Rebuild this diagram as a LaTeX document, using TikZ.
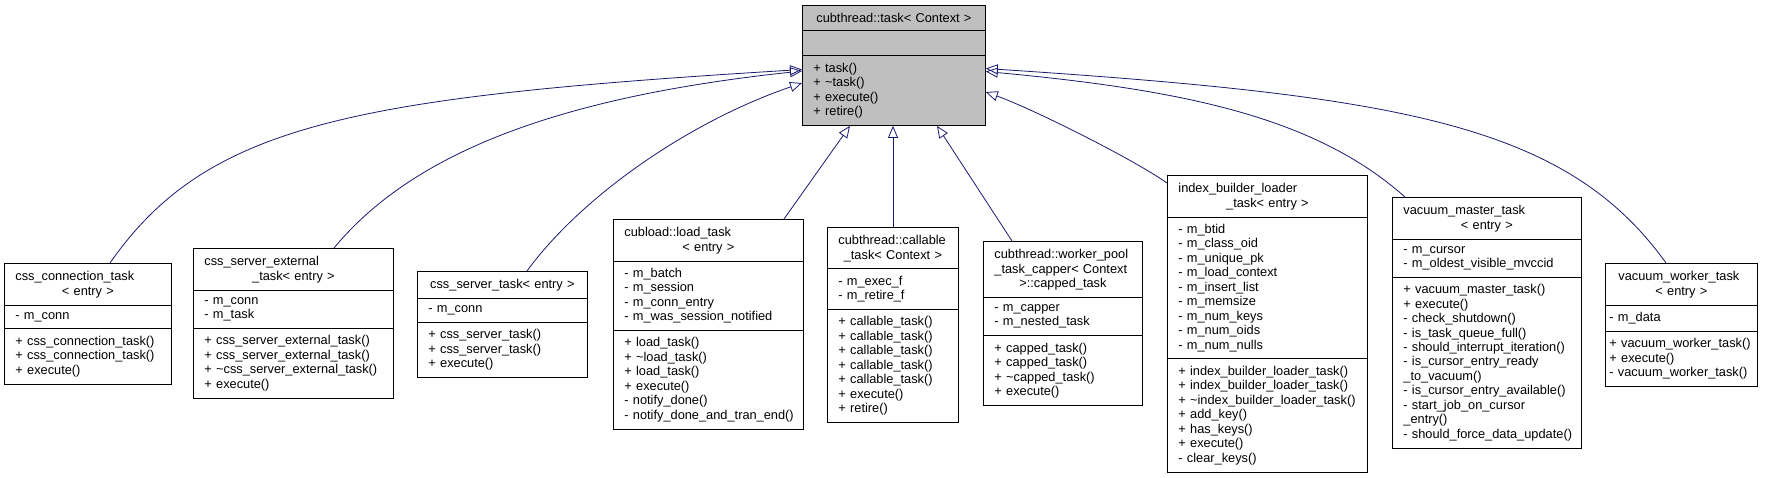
\documentclass[tikz,border=0pt]{standalone}
\usepackage{fontspec}
\setmainfont{Liberation Sans}
\usetikzlibrary{shapes.multipart, arrows.meta}
\definecolor{edgeblue}{RGB}{25, 25, 112}
\definecolor{basegray}{RGB}{191, 191, 191}
\newcommand\umlfont{\fontsize{12.8}{14.46}\selectfont\hyphenpenalty=10000 \exhyphenpenalty=10000 }
\newcommand\ctr[1]{\hfill#1\hfill\null}

\begin{document}
\begin{tikzpicture}[x=1pt, y=-1pt,
  cls/.style={draw=black, fill=white, line width=0.8pt, rectangle split, rectangle split parts=3, anchor=north west, inner xsep=11pt, inner ysep=6.8pt, text height=10pt, align=left, font=\umlfont},
  inherit/.style={draw=edgeblue, line width=0.8pt, -{Triangle[open, length=12pt, width=10pt]}}
]
  \useasboundingbox (0,0) rectangle (1778,477);

  \node[cls, fill=basegray, text width=161pt] (base) at (802,5) {\ctr{cubthread::task< Context >}
    \nodepart{second}\rule{0pt}{11.4pt}
    \nodepart{third}+~task()\\+~\textasciitilde task()\\+~execute()\\+~retire()};

  \node[cls, text width=145pt] (conn) at (4,263) {css\_connection\_task\\\ctr{< entry >}
    \nodepart{second}-~m\_conn
    \nodepart{third}+~css\_connection\_task()\\+~css\_connection\_task()\\+~execute()};

  \node[cls, text width=178pt] (extn) at (193,248) {css\_server\_external\\\ctr{\_task< entry >}
    \nodepart{second}-~m\_conn\\-~m\_task
    \nodepart{third}+~css\_server\_external\_task()\\+~css\_server\_external\_task()\\+~\textasciitilde css\_server\_external\_task()\\+~execute()};

  \node[cls, text width=148pt] (srv) at (417,271) {\ctr{css\_server\_task< entry >}
    \nodepart{second}-~m\_conn
    \nodepart{third}+~css\_server\_task()\\+~css\_server\_task()\\+~execute()};

  \node[cls, text width=168pt] (load) at (613,219) {cubload::load\_task\\\ctr{< entry >}
    \nodepart{second}-~m\_batch\\-~m\_session\\-~m\_conn\_entry\\-~m\_was\_session\_notified
    \nodepart{third}+~load\_task()\\+~\textasciitilde load\_task()\\+~load\_task()\\+~execute()\\-~notify\_done()\\-~notify\_done\_and\_tran\_end()};

  \node[cls, text width=109pt] (call) at (827,227) {cubthread::callable\\\ctr{\_task< Context >}
    \nodepart{second}-~m\_exec\_f\\-~m\_retire\_f
    \nodepart{third}+~callable\_task()\\+~callable\_task()\\+~callable\_task()\\+~callable\_task()\\+~callable\_task()\\+~execute()\\+~retire()};

  \node[cls, text width=137pt] (capped) at (983,241) {cubthread::worker\_pool\\\_task\_capper< Context\\\ctr{>::capped\_task}
    \nodepart{second}-~m\_capper\\-~m\_nested\_task
    \nodepart{third}+~capped\_task()\\+~capped\_task()\\+~\textasciitilde capped\_task()\\+~execute()};

  \node[cls, text width=178pt] (ibl) at (1167,175) {index\_builder\_loader\\\ctr{\_task< entry >}
    \nodepart{second}-~m\_btid\\-~m\_class\_oid\\-~m\_unique\_pk\\-~m\_load\_context\\-~m\_insert\_list\\-~m\_memsize\\-~m\_num\_keys\\-~m\_num\_oids\\-~m\_num\_nulls
    \nodepart{third}+~index\_builder\_loader\_task()\\+~index\_builder\_loader\_task()\\+~\textasciitilde index\_builder\_loader\_task()\\+~add\_key()\\+~has\_keys()\\+~execute()\\-~clear\_keys()};

  \node[cls, text width=167pt] (vmaster) at (1392,197) {vacuum\_master\_task\\\ctr{< entry >}
    \nodepart{second}-~m\_cursor\\-~m\_oldest\_visible\_mvccid
    \nodepart{third}+~vacuum\_master\_task()\\+~execute()\\-~check\_shutdown()\\-~is\_task\_queue\_full()\\-~should\_interrupt\_iteration()\\-~is\_cursor\_entry\_ready\\\_to\_vacuum()\\-~is\_cursor\_entry\_available()\\-~start\_job\_on\_cursor\\\_entry()\\-~should\_force\_data\_update()};

  \node[cls, inner xsep=4pt, text width=144pt] (vworker) at (1605,263) {\hspace*{9pt}vacuum\_worker\_task\\\ctr{< entry >}
    \nodepart{second}-~m\_data
    \nodepart{third}+~vacuum\_worker\_task()\\+~execute()\\-~vacuum\_worker\_task()};

  \draw[inherit] ([xshift=106pt]conn.north west) .. controls (207,124) and (352,97) .. ([yshift=-64.5pt]base.north west);
  \draw[inherit] ([xshift=141pt]extn.north west) .. controls (411,155) and (553,97.5) .. ([yshift=-66pt]base.north west);
  \draw[inherit] ([xshift=110pt]srv.north west) .. controls (581,197) and (688,122) .. ([yshift=-78pt]base.north west);
  \draw[inherit] ([xshift=171pt]load.north west) -- ([xshift=48pt]base.south west);
  \draw[inherit] ([xshift=66pt]call.north west) -- ([xshift=91pt]base.south west);
  \draw[inherit] ([xshift=29pt]capped.north west) -- ([xshift=135pt]base.south west);
  \draw[inherit] ([yshift=-8pt]ibl.north west) .. controls (1133,159) and (1033,109) .. ([yshift=-87pt]base.north east);
  \draw[inherit] ([xshift=13pt]vmaster.north west) .. controls (1315,117) and (1184,90) .. ([yshift=-66.5pt]base.north east);
  \draw[inherit] ([xshift=61pt]vworker.north west) .. controls (1567,125) and (1404,96) .. ([yshift=-63.5pt]base.north east);
\end{tikzpicture}
\end{document}
